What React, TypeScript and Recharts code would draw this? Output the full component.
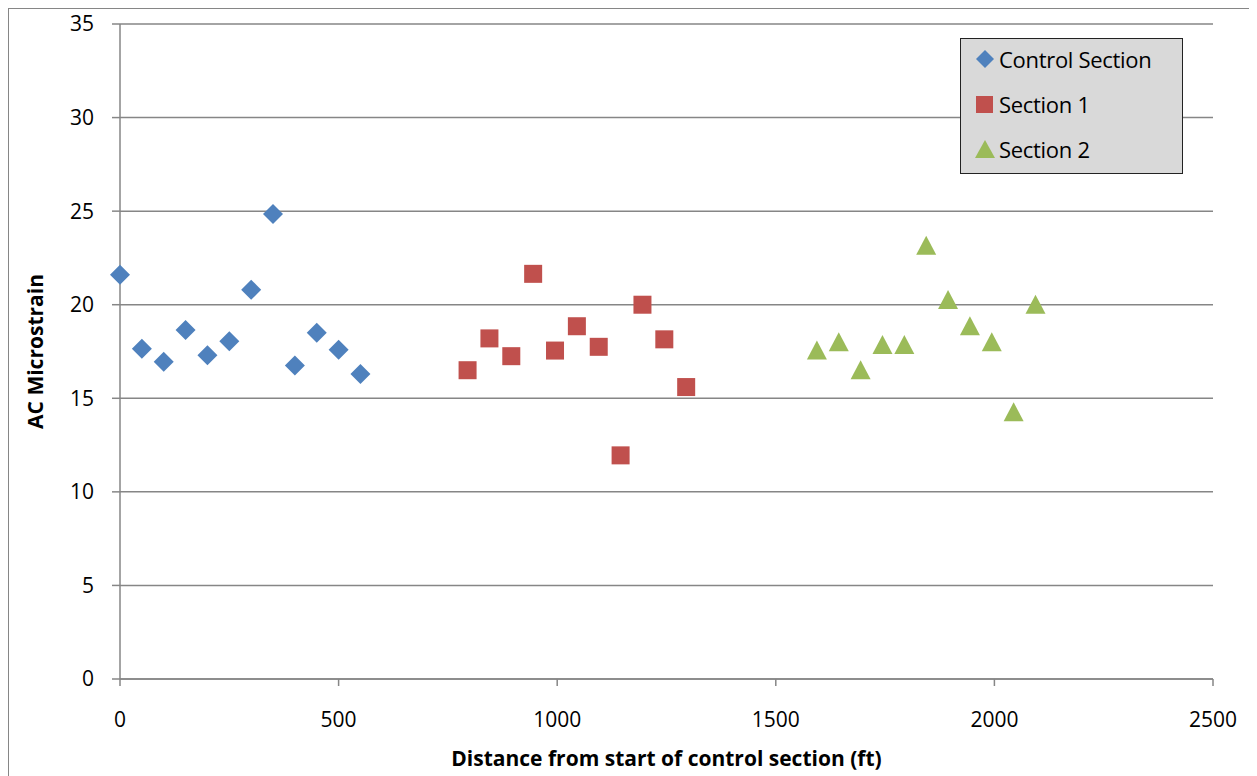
import React from 'react';
import { ScatterChart, Scatter, XAxis, YAxis, CartesianGrid } from 'recharts';

// Distances (ft) and AC microstrain per section
const controlX = [0, 50, 100, 150, 200, 250, 300, 350, 400, 450, 500, 550];
const controlY = [21.6, 17.65, 16.95, 18.65, 17.3, 18.05, 20.8, 24.85, 16.75, 18.5, 17.6, 16.3];

const section1X = [795, 845, 895, 945, 995, 1045, 1095, 1145, 1195, 1245, 1295];
const section1Y = [16.5, 18.2, 17.25, 21.65, 17.55, 18.85, 17.75, 11.95, 20.0, 18.15, 15.6];

const section2X = [1594, 1644, 1694, 1744, 1794, 1844, 1894, 1944, 1994, 2044, 2094];
const section2Y = [17.55, 18.0, 16.5, 17.85, 17.85, 23.15, 20.25, 18.85, 18.0, 14.25, 20.0];

const xTicks = [0, 500, 1000, 1500, 2000, 2500];
const yTicks = [0, 5, 10, 15, 20, 25, 30, 35];

const toPoints = (xs: number[], ys: number[]) => xs.map((x, i) => ({ x, y: ys[i] }));

const controlData = toPoints(controlX, controlY);
const section1Data = toPoints(section1X, section1Y);
const section2Data = toPoints(section2X, section2Y);

const BLUE = '#4f81bd';
const RED = '#c0504d';
const GREEN = '#9bbb59';
const GRID = '#868686';
const FONT = '"Open Sans", sans-serif';

const Diamond = ({ cx, cy }: any) => (
  <polygon points={`${cx},${cy - 10} ${cx + 10},${cy} ${cx},${cy + 10} ${cx - 10},${cy}`} fill={BLUE} />
);
const Square = ({ cx, cy }: any) => <rect x={cx - 9} y={cy - 9} width={18} height={18} fill={RED} />;
const Triangle = ({ cx, cy }: any) => (
  <polygon points={`${cx},${cy - 10} ${cx + 10},${cy + 9} ${cx - 10},${cy + 9}`} fill={GREEN} />
);

const legendItems = [
  { name: 'Control Section', shape: 'diamond', color: BLUE },
  { name: 'Section 1', shape: 'square', color: RED },
  { name: 'Section 2', shape: 'triangle', color: GREEN },
];

const LegendBox = () => (
  <div
    style={{
      position: 'absolute',
      left: 951,
      top: 29,
      width: 223,
      height: 136,
      boxSizing: 'border-box',
      background: '#d9d9d9',
      border: '1.5px solid #222',
      fontFamily: FONT,
      fontSize: 22,
      color: '#000',
    }}
  >
    <div style={{ marginTop: -3 }}>
      {legendItems.map((it) => (
        <div key={it.name} style={{ display: 'flex', alignItems: 'center', height: 45, paddingLeft: 13 }}>
          <svg width={22} height={22} style={{ marginRight: 3 }}>
            {it.shape === 'diamond' && <polygon points="11,2 20,11 11,20 2,11" fill={it.color} />}
            {it.shape === 'square' && <rect x={2} y={3} width={17} height={17} fill={it.color} />}
            {it.shape === 'triangle' && <polygon points="11,2 21,20 1,20" fill={it.color} />}
          </svg>
          <span style={{ letterSpacing: -0.3 }}>{it.name}</span>
        </div>
      ))}
    </div>
  </div>
);

const YLabel = ({ viewBox }: any) => {
  const x = 26;
  const y = viewBox.y + viewBox.height / 2;
  return (
    <text x={x} y={y} transform={`rotate(-90, ${x}, ${y})`} textAnchor="middle" dominantBaseline="central"
      fontFamily={FONT} fontSize={21} fontWeight="bold" fill="#000">
      AC Microstrain
    </text>
  );
};

const XLabel = ({ viewBox }: any) => {
  const x = viewBox.x + viewBox.width / 2;
  return (
    <text x={x} y={749} textAnchor="middle" dominantBaseline="central"
      fontFamily={FONT} fontSize={21} fontWeight="bold" fill="#000">
      Distance from start of control section (ft)
    </text>
  );
};

const tickStyle = { fontFamily: FONT, fontSize: 21, fill: '#000' };

export default function App() {
  return (
    <div style={{ width: 1248, height: 776, border: `1.5px solid ${GRID}`, boxSizing: 'border-box', position: 'relative' }}>
      <ScatterChart width={1245} height={773} margin={{ top: 15, right: 41, left: 0, bottom: 8 }}>
        <CartesianGrid vertical={false} stroke={GRID} strokeWidth={1.5} />
        <XAxis
          type="number"
          dataKey="x"
          domain={[0, 2500]}
          ticks={xTicks}
          interval={0}
          height={95}
          stroke={GRID}
          strokeWidth={1.5}
          tickSize={7}
          tickMargin={26}
          tick={tickStyle}
          label={<XLabel />}
        />
        <YAxis
          type="number"
          dataKey="y"
          domain={[0, 35]}
          ticks={yTicks}
          interval={0}
          width={111}
          stroke={GRID}
          strokeWidth={1.5}
          tickSize={8}
          tickMargin={18}
          tick={tickStyle}
          label={<YLabel />}
        />
        <Scatter name="Control Section" data={controlData} shape={<Diamond />} isAnimationActive={false} />
        <Scatter name="Section 1" data={section1Data} shape={<Square />} isAnimationActive={false} />
        <Scatter name="Section 2" data={section2Data} shape={<Triangle />} isAnimationActive={false} />
      </ScatterChart>
      <LegendBox />
    </div>
  );
}
